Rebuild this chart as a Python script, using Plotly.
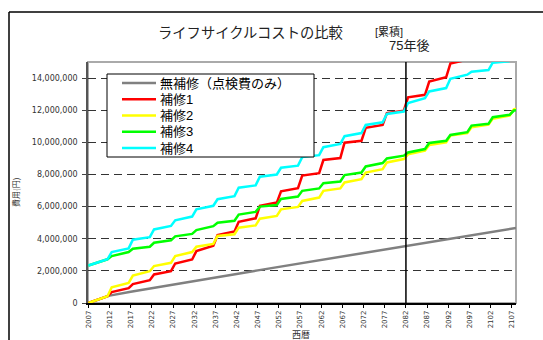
import plotly.graph_objects as go

# ---------------- data (values in million yen) ----------------
start_year = 2007
end_year = 2108
blocks = [2012, 2017, 2022, 2027, 2032, 2037, 2042, 2047, 2052, 2057,
          2062, 2067, 2072, 2077, 2082, 2087, 2092, 2097, 2102, 2107]
tick_years = [2007, 2012, 2017, 2022, 2027, 2032, 2037, 2042, 2047, 2052, 2057,
              2062, 2067, 2072, 2077, 2082, 2087, 2092, 2097, 2102, 2107]
y_ticks = [0, 2e6, 4e6, 6e6, 8e6, 10e6, 12e6, 14e6]

series_names = ["無補修（点検費のみ）", "補修1", "補修2", "補修3", "補修4"]

# gray: inspection only (value at each block year)
gray_years = [2007, 2012, 2017, 2022, 2027, 2032, 2037, 2042, 2047, 2052, 2057,
              2062, 2067, 2072, 2077, 2082, 2087, 2092, 2097, 2102, 2107, 2108]
gray_vals = [0.0, 0.46, 0.70, 0.93, 1.15, 1.37, 1.59, 1.81, 2.03, 2.25, 2.47,
             2.69, 2.91, 3.13, 3.35, 3.56, 3.78, 4.00, 4.22, 4.44, 4.63, 4.67]

# repair series: value just before / just after each 5-year jump
red_start = 0.0
red_before = [0.42, 0.92, 1.42, 1.98, 2.71, 3.56, 4.45, 5.27, 6.25, 7.15,
              8.08, 9.02, 10.10, 11.08, 11.97, 12.96, 14.05, 15.15]
red_after = [0.68, 1.18, 1.78, 2.46, 3.23, 4.22, 5.05, 6.05, 6.95, 7.93,
             8.90, 9.98, 10.90, 11.82, 12.80, 13.78, 14.90]

yellow_start = 0.0
yellow_before = [0.42, 1.25, 1.98, 2.50, 3.17, 3.68, 4.28, 4.83, 5.42, 5.98,
                 6.56, 7.13, 7.71, 8.33, 8.96, 9.48, 10.00, 10.58, 11.10, 11.67]
yellow_after = [0.98, 1.71, 2.30, 2.92, 3.50, 4.17, 4.69, 5.25, 5.83, 6.35,
                6.98, 7.50, 8.12, 8.75, 9.25, 9.83, 10.42, 10.94, 11.46, 12.05]
yellow_end = 12.10

green_start = 2.33
green_before = [2.72, 3.17, 3.50, 3.90, 4.30, 4.78, 5.12, 5.67, 6.10, 6.63,
                7.13, 7.56, 8.12, 8.71, 9.17, 9.58, 10.10, 10.63, 11.15, 11.71]
green_after = [2.92, 3.38, 3.75, 4.15, 4.54, 5.00, 5.50, 6.00, 6.48, 6.98,
               7.46, 7.96, 8.50, 9.00, 9.37, 9.96, 10.46, 11.04, 11.56, 11.98]
green_end = 12.00

cyan_start = 2.33
cyan_before = [2.72, 3.40, 4.10, 4.80, 5.38, 6.05, 6.65, 7.32, 8.00, 8.55,
               9.20, 9.90, 10.58, 11.25, 11.92, 12.75, 13.38, 14.21, 14.50, 15.05]
cyan_after = [3.17, 3.94, 4.58, 5.15, 5.83, 6.46, 7.18, 7.86, 8.42, 9.08,
              9.70, 10.38, 11.08, 11.77, 12.45, 13.17, 13.96, 14.40, 14.96]

colors = ["#808080", "#FF0000", "#FFFF00", "#00FF00", "#00FFFF"]
JUMP_HALF = 0.5  # jumps spread over one year around each block year


def build(start, before, after, end=None):
    xs, ys = [start_year], [start * 1e6]
    for i, b in enumerate(before):
        xs.append(blocks[i] - JUMP_HALF)
        ys.append(b * 1e6)
        if i < len(after):
            xs.append(blocks[i] + JUMP_HALF)
            ys.append(after[i] * 1e6)
    if end is not None:
        xs.append(end_year)
        ys.append(end * 1e6)
    return xs, ys


traces = [
    (gray_years, [v * 1e6 for v in gray_vals]),
    build(red_start, red_before, red_after),
    build(yellow_start, yellow_before, yellow_after, yellow_end),
    build(green_start, green_before, green_after, green_end),
    build(cyan_start, cyan_before, cyan_after),
]

fig = go.Figure()
for (xs, ys), name, col in zip(traces, series_names, colors):
    fig.add_trace(go.Scatter(x=xs, y=ys, mode="lines", name=name,
                             line=dict(color=col, width=2.5)))

W, H = 543, 340
L, R, T, B = 88, 27, 62, 37
pw, ph = W - L - R, H - T - B


def px(x):
    return (x - L) / pw


def py(y):
    return (H - B - y) / ph


cjk = "Noto Sans CJK JP"
compact = "Liberation Sans, Noto Sans CJK JP"

# ---- legend box drawn by hand (compact row spacing) ----
leg_left, leg_right, leg_top, leg_bottom = 107, 314, 74, 157
leg_line_x0, leg_line_x1, leg_text_x = 122, 156, 159
leg_row_y = [83, 99.25, 115.5, 131.75, 148]

shapes = [
    dict(type="line", xref="paper", yref="paper", x0=px(9), x1=px(600),
         y0=py(12), y1=py(12), line=dict(color="black", width=1.5)),
    dict(type="line", xref="paper", yref="paper", x0=px(9), x1=px(9),
         y0=py(12), y1=py(400), line=dict(color="black", width=1.5)),
    dict(type="rect", xref="paper", yref="paper", x0=0, x1=1, y0=0, y1=1,
         line=dict(color="#aaaaaa", width=2), fillcolor="rgba(0,0,0,0)",
         layer="below"),
    dict(type="line", xref="x", yref="paper", x0=2082, x1=2082, y0=0, y1=1,
         line=dict(color="black", width=1.5), layer="above"),
    dict(type="rect", xref="paper", yref="paper", x0=px(leg_left), x1=px(leg_right),
         y0=py(leg_bottom), y1=py(leg_top), line=dict(color="black", width=1),
         fillcolor="white", layer="above"),
]
annotations = [
    dict(text="ライフサイクルコストの比較", xref="paper", yref="paper",
         x=px(156), y=py(31), showarrow=False, xanchor="left", yanchor="middle",
         font=dict(family=cjk, size=14.3, color="#222")),
    dict(text="[累積]", xref="paper", yref="paper",
         x=px(374), y=py(31), showarrow=False, xanchor="left", yanchor="middle",
         borderpad=0, font=dict(family=compact, size=11, color="#222")),
    dict(text="75年後", xref="paper", yref="paper", x=px(409), y=py(45.5),
         showarrow=False, xanchor="center", yanchor="middle",
         borderpad=0, font=dict(family=compact, size=13, color="#222")),
    dict(text="費用(円)", xref="paper", yref="paper", x=px(15), y=py(193),
         showarrow=False, textangle=-90, xanchor="center", yanchor="middle",
         font=dict(family=cjk, size=8, color="#333")),
    dict(text="西暦", xref="paper", yref="paper", x=px(301), y=py(334),
         showarrow=False, xanchor="center", yanchor="middle",
         font=dict(family=cjk, size=9, color="#333")),
]
for name, col, ry in zip(series_names, colors, leg_row_y):
    shapes.append(dict(type="line", xref="paper", yref="paper",
                       x0=px(leg_line_x0), x1=px(leg_line_x1), y0=py(ry), y1=py(ry),
                       line=dict(color=col, width=2.5), layer="above"))
    annotations.append(dict(text=name, xref="paper", yref="paper", x=px(leg_text_x),
                            y=py(ry), showarrow=False, xanchor="left", yanchor="middle",
                            borderpad=0,
                            font=dict(family=compact, size=13, color="black")))

fig.update_layout(
    width=W, height=H,
    margin=dict(l=L, r=R, t=T, b=B, pad=0),
    paper_bgcolor="white",
    plot_bgcolor="rgba(0,0,0,0)",
    showlegend=False,
    xaxis=dict(range=[2006.9, 2108.0], tickmode="array", tickvals=tick_years,
               ticktext=[str(t) for t in tick_years], tickangle=-90,
               ticks="outside", ticklen=3, tickcolor="black",
               tickfont=dict(family="DejaVu Sans", size=7, color="#333"),
               showline=True, linecolor="black", linewidth=1.5,
               showgrid=False, zeroline=False),
    yaxis=dict(range=[0, 15e6], tickmode="array", tickvals=y_ticks,
               tickformat=",d", ticks="outside", ticklen=4, tickcolor="#444",
               ticklabelstandoff=3,
               tickfont=dict(family="DejaVu Sans", size=8, color="#333"),
               showline=True, linecolor="#555", linewidth=1.5,
               showgrid=True, gridcolor="#333", gridwidth=1, griddash="8px,5px",
               zeroline=False),
    shapes=shapes,
    annotations=annotations,
)

fig.write_html("out.html")
